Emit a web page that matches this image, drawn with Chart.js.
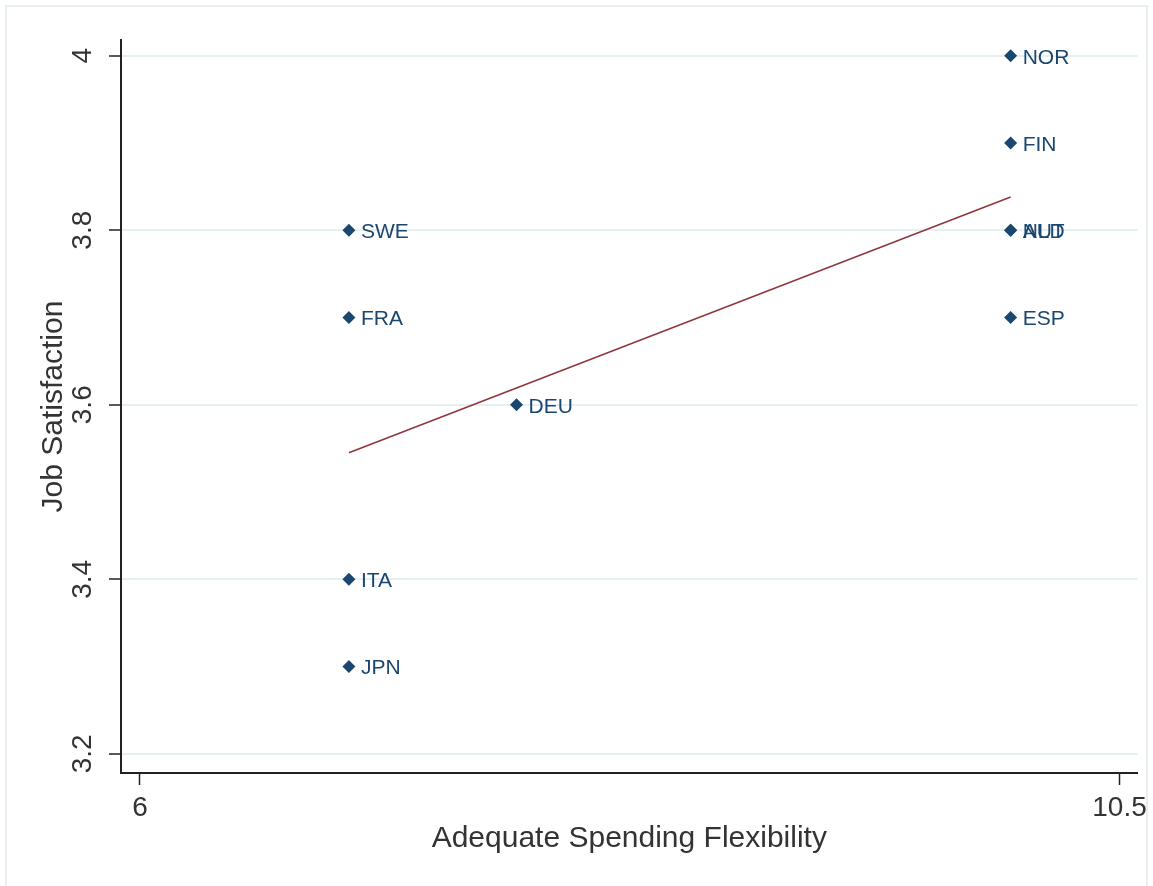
<!DOCTYPE html>
<html>
<head>
<meta charset="utf-8">
<script src="https://cdn.jsdelivr.net/npm/chart.js@4/dist/chart.umd.min.js"></script>
<style>
  html, body { margin: 0; padding: 0; background: #fff; }
  canvas { display: block; }
</style>
</head>
<body>
<canvas id="chart" width="1153" height="886"></canvas>
<script>
// Dados
const countries = ['SWE', 'FRA', 'ITA', 'JPN', 'DEU', 'NOR', 'FIN', 'AUT', 'NLD', 'ESP'];
const flexibility = [6.96, 6.96, 6.96, 6.96, 7.73, 10, 10, 10, 10, 10];
const satisfaction = [3.8, 3.7, 3.4, 3.3, 3.6, 4.0, 3.9, 3.8, 3.8, 3.7];

// Reta ajustada (extremos)
const fitX = [6.96, 10];
const fitY = [3.545, 3.838];

const xTicks = [6, 10.5];
const yTicks = [3.2, 3.4, 3.6, 3.8, 4];

const navy = '#1a476f';
const maroon = '#90353b';
const gridColor = '#e6eff1';
const fontFamily = "'Liberation Sans', Arial, sans-serif";

const points = countries.map((c, i) => ({ x: flexibility[i], y: satisfaction[i] }));
const fitLine = fitX.map((x, i) => ({ x: x, y: fitY[i] }));

// Moldura externa e fundo branco
const framePlugin = {
    id: 'frame',
    beforeDraw(chart) {
        const ctx = chart.ctx;
        ctx.save();
        ctx.fillStyle = '#fff';
        ctx.fillRect(0, 0, chart.width, chart.height);
        ctx.strokeStyle = '#e8eff2';
        ctx.lineWidth = 2;
        ctx.strokeRect(6, 6, chart.width - 12, chart.height + 10);
        ctx.restore();
    }
};

// Rótulos dos países ao lado dos pontos
const labelPlugin = {
    id: 'pointLabels',
    afterDatasetsDraw(chart) {
        const ctx = chart.ctx;
        const meta = chart.getDatasetMeta(1);
        ctx.save();
        ctx.font = "21px " + fontFamily;
        ctx.fillStyle = navy;
        ctx.textAlign = 'left';
        ctx.textBaseline = 'middle';
        meta.data.forEach(function(pt, i) {
            ctx.fillText(countries[i], pt.x + 12, pt.y + 2);
        });
        ctx.restore();
    }
};

const ctx = document.getElementById('chart').getContext('2d');
const chart = new Chart(ctx, {
    type: 'scatter',
    data: {
        datasets: [
            {
                type: 'line',
                label: 'Fitted values',
                data: fitLine,
                borderColor: maroon,
                borderWidth: 1.5,
                pointRadius: 0,
                fill: false,
                order: 2
            },
            {
                label: 'Job Satisfaction',
                data: points,
                pointStyle: 'rectRot',
                pointRadius: 6.5,
                pointBackgroundColor: navy,
                pointBorderColor: navy,
                pointBorderWidth: 0,
                order: 1
            }
        ]
    },
    options: {
        responsive: false,
        animation: false,
        devicePixelRatio: 1,
        layout: { padding: { top: 40, right: 15, left: 0, bottom: 0 } },
        plugins: {
            legend: { display: false },
            tooltip: { enabled: false }
        },
        scales: {
            x: {
                type: 'linear',
                min: 5.913,
                max: 10.583,
                afterBuildTicks: function(scale) {
                    scale.ticks = xTicks.map(v => ({ value: v }));
                },
                afterFit: function(scale) { scale.height = 113; },
                border: { display: true, color: '#222', width: 2 },
                grid: {
                    drawOnChartArea: false,
                    drawTicks: true,
                    tickLength: 12,
                    tickColor: '#222',
                    tickWidth: 1.5
                },
                ticks: {
                    color: '#333',
                    padding: 6,
                    maxRotation: 0,
                    font: { family: fontFamily, size: 28 },
                    callback: v => String(v)
                },
                title: {
                    display: true,
                    text: 'Adequate Spending Flexibility',
                    color: '#333',
                    font: { family: fontFamily, size: 30 },
                    padding: { top: 0, bottom: 29 }
                }
            },
            y: {
                type: 'linear',
                min: 3.178,
                max: 4.018,
                afterBuildTicks: function(scale) {
                    scale.ticks = yTicks.map(v => ({ value: v }));
                },
                afterFit: function(scale) { scale.width = 121; },
                border: { display: true, color: '#222', width: 2 },
                grid: {
                    color: gridColor,
                    lineWidth: 2,
                    drawTicks: true,
                    tickLength: 12,
                    tickColor: '#222',
                    tickWidth: 1.5
                },
                ticks: {
                    color: '#333',
                    padding: 6,
                    minRotation: 90,
                    maxRotation: 90,
                    crossAlign: 'center',
                    font: { family: fontFamily, size: 28 },
                    callback: v => String(v)
                },
                title: {
                    display: true,
                    text: 'Job Satisfaction',
                    color: '#333',
                    font: { family: fontFamily, size: 30 },
                    padding: { top: 36, bottom: 0 }
                }
            }
        }
    },
    plugins: [framePlugin, labelPlugin]
});
</script>
</body>
</html>
